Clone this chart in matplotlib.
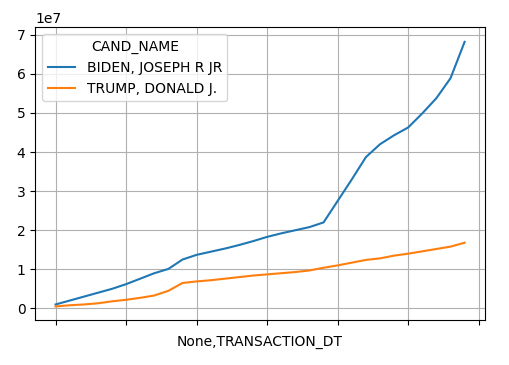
import matplotlib
matplotlib.use("Agg")
import matplotlib.pyplot as plt
import numpy as np

series_names = ["BIDEN, JOSEPH R JR", "TRUMP, DONALD J."]
biden = [0.10, 0.20, 0.30, 0.40, 0.50, 0.62, 0.76, 0.90, 1.01, 1.25,
         1.37, 1.45, 1.53, 1.62, 1.72, 1.83, 1.92, 2.00, 2.08, 2.20,
         2.75, 3.30, 3.87, 4.20, 4.43, 4.63, 4.99, 5.38, 5.89, 6.82]
trump = [0.05, 0.08, 0.10, 0.13, 0.18, 0.22, 0.27, 0.33, 0.45, 0.65,
         0.69, 0.72, 0.76, 0.80, 0.84, 0.87, 0.90, 0.93, 0.97, 1.04,
         1.10, 1.17, 1.24, 1.28, 1.35, 1.40, 1.46, 1.52, 1.58, 1.68]
scale = 1e7
xticks = [0, 5, 10, 15, 20, 25, 30]

fig = plt.figure(figsize=(5.09, 3.65), dpi=100)
ax = fig.add_axes([0.069, 0.123, 0.884, 0.803])
x = np.arange(len(biden))
ax.plot(x, np.array(biden) * scale, color="#1f77b4", label=series_names[0])
ax.plot(x, np.array(trump) * scale, color="#ff7f0e", label=series_names[1])
ax.set_xticks(xticks)
ax.set_xticklabels([""] * len(xticks))
ax.set_yticks(np.arange(0, 8) * scale)
ax.set_ylim(-0.3 * scale, 7.2 * scale)
ax.grid(True)
ax.set_xlabel("None,TRANSACTION_DT")
ax.legend(title="CAND_NAME", loc="upper left")
fig.savefig("out.png", dpi=100)
